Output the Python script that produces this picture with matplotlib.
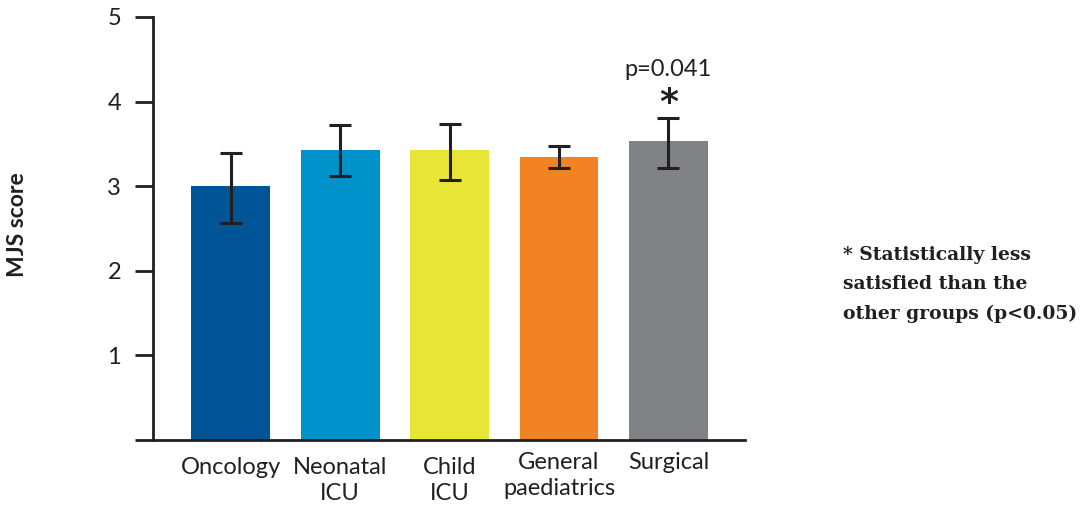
import matplotlib
matplotlib.use("Agg")
import matplotlib.pyplot as plt
from matplotlib.transforms import offset_copy

categories = ["Oncology", "Neonatal\nICU", "Child\nICU", "General\npaediatrics", "Surgical"]
means = [3.00, 3.43, 3.43, 3.35, 3.53]
err_low = [2.57, 3.12, 3.07, 3.21, 3.22]
err_high = [3.39, 3.72, 3.73, 3.48, 3.81]
colors = ["#005596", "#0092CA", "#E8E537", "#F28325", "#808285"]
yticks = [0, 1, 2, 3, 4, 5]
ytick_labels = ["", "1", "2", "3", "4", "5"]

ink = "#231F20"
sans = ["Lato", "DejaVu Sans"]

fig = plt.figure(figsize=(10.91, 5.13), dpi=100)
ax = fig.add_axes([153/1091, 1 - 440/513, (745 - 153)/1091, (440 - 17)/513])

x = list(range(len(categories)))
yerr = [[m - lo for m, lo in zip(means, err_low)], [hi - m for m, hi in zip(means, err_high)]]
ax.bar(x, means, width=0.72, color=colors, zorder=2)
ax.errorbar(x, means, yerr=yerr, fmt="none", ecolor=ink, elinewidth=2.2,
            capsize=8, capthick=2.2, zorder=3)

ax.set_xlim(-0.71, 4.7)
ax.set_ylim(0, 5)
ax.set_yticks(yticks)
ax.set_yticklabels(ytick_labels, fontsize=17, color=ink, family=sans)
ax.tick_params(axis="y", length=13, width=2, color=ink, pad=10)
ax.set_xticks([])
for s in ["top", "right"]:
    ax.spines[s].set_visible(False)
for s in ["left", "bottom"]:
    ax.spines[s].set_linewidth(2)
    ax.spines[s].set_color(ink)

# category labels (last two sit slightly higher in the reference)
offsets = [-17, -17, -17, -12, -12]
for xi, lab, off in zip(x, categories, offsets):
    tr = offset_copy(ax.get_xaxis_transform(), fig=fig, x=0, y=off * 0.72, units="points")
    ax.text(xi, 0, lab, transform=tr, ha="center", va="top", fontsize=17,
            color=ink, family=sans, linespacing=1.3)

fig.text(18/1091, 1 - 225/513, "MJS score", rotation=90, ha="center", va="center",
         fontsize=16.5, fontweight="bold", color=ink, family=sans)

# significance annotation
ax.text(4, 3.78, "*", ha="center", va="bottom", fontsize=26, fontweight="bold",
        color=ink, family=["DejaVu Sans"])
ax.text(4, 4.25, "p=0.041", ha="center", va="bottom", fontsize=17, color=ink, family=sans)

fig.text(843/1091, 1 - 246/513, "* Statistically less\nsatisfied than the\nother groups (p<0.05)",
         ha="left", va="top", fontsize=13.5, fontweight="bold", color=ink,
         family=["DejaVu Serif"], linespacing=1.8)

fig.savefig("out.png", dpi=100)
